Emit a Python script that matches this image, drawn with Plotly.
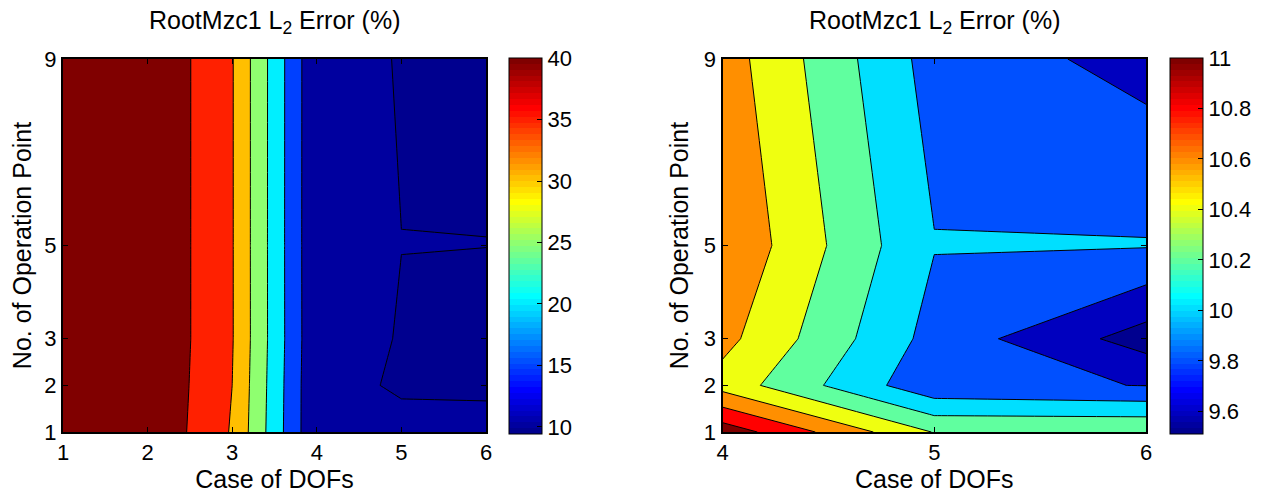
import math
import plotly.graph_objects as go

# ---------------- data ----------------
y_ops = [1, 2, 3, 5, 9]                      # No. of Operation Point
x_left = [1, 2, 3, 4, 5, 6]                  # Case of DOFs (left)
z_left = [                                   # rows follow y_ops
    [46.0, 44.65, 34.58, 10.49, 10.37, 10.41],
    [46.0, 44.80, 35.00, 10.45, 9.849, 9.795],
    [46.0, 44.90, 35.30, 10.64, 9.926, 9.43],
    [46.0, 44.90, 35.30, 10.60, 10.008, 10.013],
    [46.0, 44.90, 35.30, 10.64, 9.916, 9.732],
]
x_right = [4, 5, 6]                          # Case of DOFs (right)
z_right = [
    [11.12, 10.39, 10.395],
    [10.52, 9.849, 9.795],
    [10.663, 9.926, 9.51],
    [10.78, 10.008, 10.012],
    [10.70, 9.916, 9.732],
]
levels_left = dict(start=10, end=40, size=5)
levels_right = dict(start=9.6, end=11.0, size=0.2)
cbar_ticks_left = [10, 15, 20, 25, 30, 35, 40]
cbar_ticks_right = [9.6, 9.8, 10.0, 10.2, 10.4, 10.6, 10.8, 11.0]
cbar_text_right = ["9.6", "9.8", "10", "10.2", "10.4", "10.6", "10.8", "11"]
title_text = "RootMzc1 L<sub>2</sub> Error (%)"
xlabel = "Case of DOFs"
ylabel = "No. of Operation Point"

# ---------------- MATLAB jet(64) ----------------
def jet64():
    m, n = 64, 16
    u = [i / n for i in range(1, n + 1)] + [1.0] * (n - 1) + [i / n for i in range(n, 0, -1)]
    r = [0.0] * m; g = [0.0] * m; b = [0.0] * m
    for j, val in enumerate(u):
        gi = 8 + j + 1
        ri, bi = gi + n, gi - n
        if 1 <= ri <= m: r[ri - 1] = val
        if 1 <= gi <= m: g[gi - 1] = val
        if 1 <= bi <= m: b[bi - 1] = val
    return [(round(255 * r[i]), round(255 * g[i]), round(255 * b[i])) for i in range(m)]

JET = jet64()

def rgb(c):
    return "rgb(%d,%d,%d)" % c

def jet_colorbar_scale():
    cs = []
    for i, c in enumerate(JET):
        cs.append([i / 64, rgb(c)])
        cs.append([(i + 1) / 64, rgb(c)])
    return cs

def band_scale(lv, cmin, cmax):
    start, end, size = lv["start"], lv["end"], lv["size"]
    nc = int(math.floor((end - start) / size + 1e-6)) + 1
    lvls = [start + i * size for i in range(nc)]
    vals = [cmin] + lvls
    cs = []
    for k, v in enumerate(vals):
        idx = int(math.floor((v - cmin) / (cmax - cmin) * 64 + 1e-9))
        idx = max(0, min(63, idx))
        col = rgb(JET[idx])
        lo = max(0.0, (k - 0.5) / nc)
        hi = min(1.0, (k + 0.5) / nc)
        cs.append([lo, col]); cs.append([hi, col])
    return cs

# page body adds an 8 px offset; positions below are screen pixels
W, H, OFF = 1265, 495, 8
def px(x):
    return (x - OFF) / W
def py(y):
    return 1 - (y - OFF) / H

FONT = "Liberation Sans, Arial, sans-serif"
cmin_l, cmax_l = min(min(r) for r in z_left), levels_left["end"]
cmin_r, cmax_r = min(min(r) for r in z_right), levels_right["end"]

fig = go.Figure()

def add_panel(x, z, lv, cmin, cmax, xa, ya, cbx, ticks, ticktext):
    fig.add_trace(go.Contour(
        x=x, y=y_ops, z=z, xaxis=xa, yaxis=ya,
        contours=dict(start=lv["start"], end=lv["end"], size=lv["size"], coloring="fill"),
        colorscale=band_scale(lv, cmin, cmax), showscale=False,
        line=dict(color="black", width=1, smoothing=0),
        hoverinfo="skip"))
    fig.add_trace(go.Scatter(
        x=[x[0], x[0]], y=[y_ops[0], y_ops[0]], xaxis=xa, yaxis=ya, mode="markers",
        marker=dict(size=1, opacity=0, color=[cmin, cmax], cmin=cmin, cmax=cmax,
                    colorscale=jet_colorbar_scale(), showscale=True,
                    colorbar=dict(x=px(cbx), xanchor="left", xpad=0, ypad=0,
                                  y=py(246), yanchor="middle", len=376 / H,
                                  thickness=33, outlinewidth=1, outlinecolor="black",
                                  ticks="inside", ticklen=5, tickcolor="black",
                                  tickvals=ticks, ticktext=ticktext,
                                  tickfont=dict(family=FONT, size=22, color="black"))),
        hoverinfo="skip", showlegend=False))

add_panel(x_left, z_left, levels_left, cmin_l, cmax_l, "x", "y", 509,
          cbar_ticks_left, [str(t) for t in cbar_ticks_left])
add_panel(x_right, z_right, levels_right, cmin_r, cmax_r, "x2", "y2", 1170,
          cbar_ticks_right, cbar_text_right)

ydom = [py(432), py(59)]
axis_common = dict(showline=True, linecolor="black", linewidth=2, mirror="allticks",
                   ticks="inside", ticklen=5, tickcolor="black", tickwidth=1,
                   showgrid=False, zeroline=False, automargin=False,
                   tickfont=dict(family=FONT, size=22, color="black"))

fig.update_layout(
    width=W, height=H, margin=dict(l=0, r=0, t=0, b=0, autoexpand=False),
    paper_bgcolor="white", plot_bgcolor="white", showlegend=False,
    font=dict(family=FONT, color="black"),
    xaxis=dict(domain=[px(63), px(486)], range=[1, 6], tickvals=x_left,
               title=dict(text=xlabel, font=dict(size=25), standoff=3), anchor="y", **axis_common),
    yaxis=dict(domain=ydom, range=[1, 9], tickvals=y_ops,
               title=dict(text=ylabel, font=dict(size=25), standoff=8), anchor="x", **axis_common),
    xaxis2=dict(domain=[px(722.5), px(1146)], range=[4, 6], tickvals=x_right,
                title=dict(text=xlabel, font=dict(size=25), standoff=3), anchor="y2", **axis_common),
    yaxis2=dict(domain=ydom, range=[1, 9], tickvals=y_ops,
                title=dict(text=ylabel, font=dict(size=25), standoff=8), anchor="x2", **axis_common),
    annotations=[
        dict(text=title_text, x=px(274.5), y=py(22), xref="paper", yref="paper",
             xanchor="center", yanchor="middle", showarrow=False,
             font=dict(family=FONT, size=25, color="black")),
        dict(text=title_text, x=px(934), y=py(22), xref="paper", yref="paper",
             xanchor="center", yanchor="middle", showarrow=False,
             font=dict(family=FONT, size=25, color="black")),
    ],
)

fig.write_html("out.html")
